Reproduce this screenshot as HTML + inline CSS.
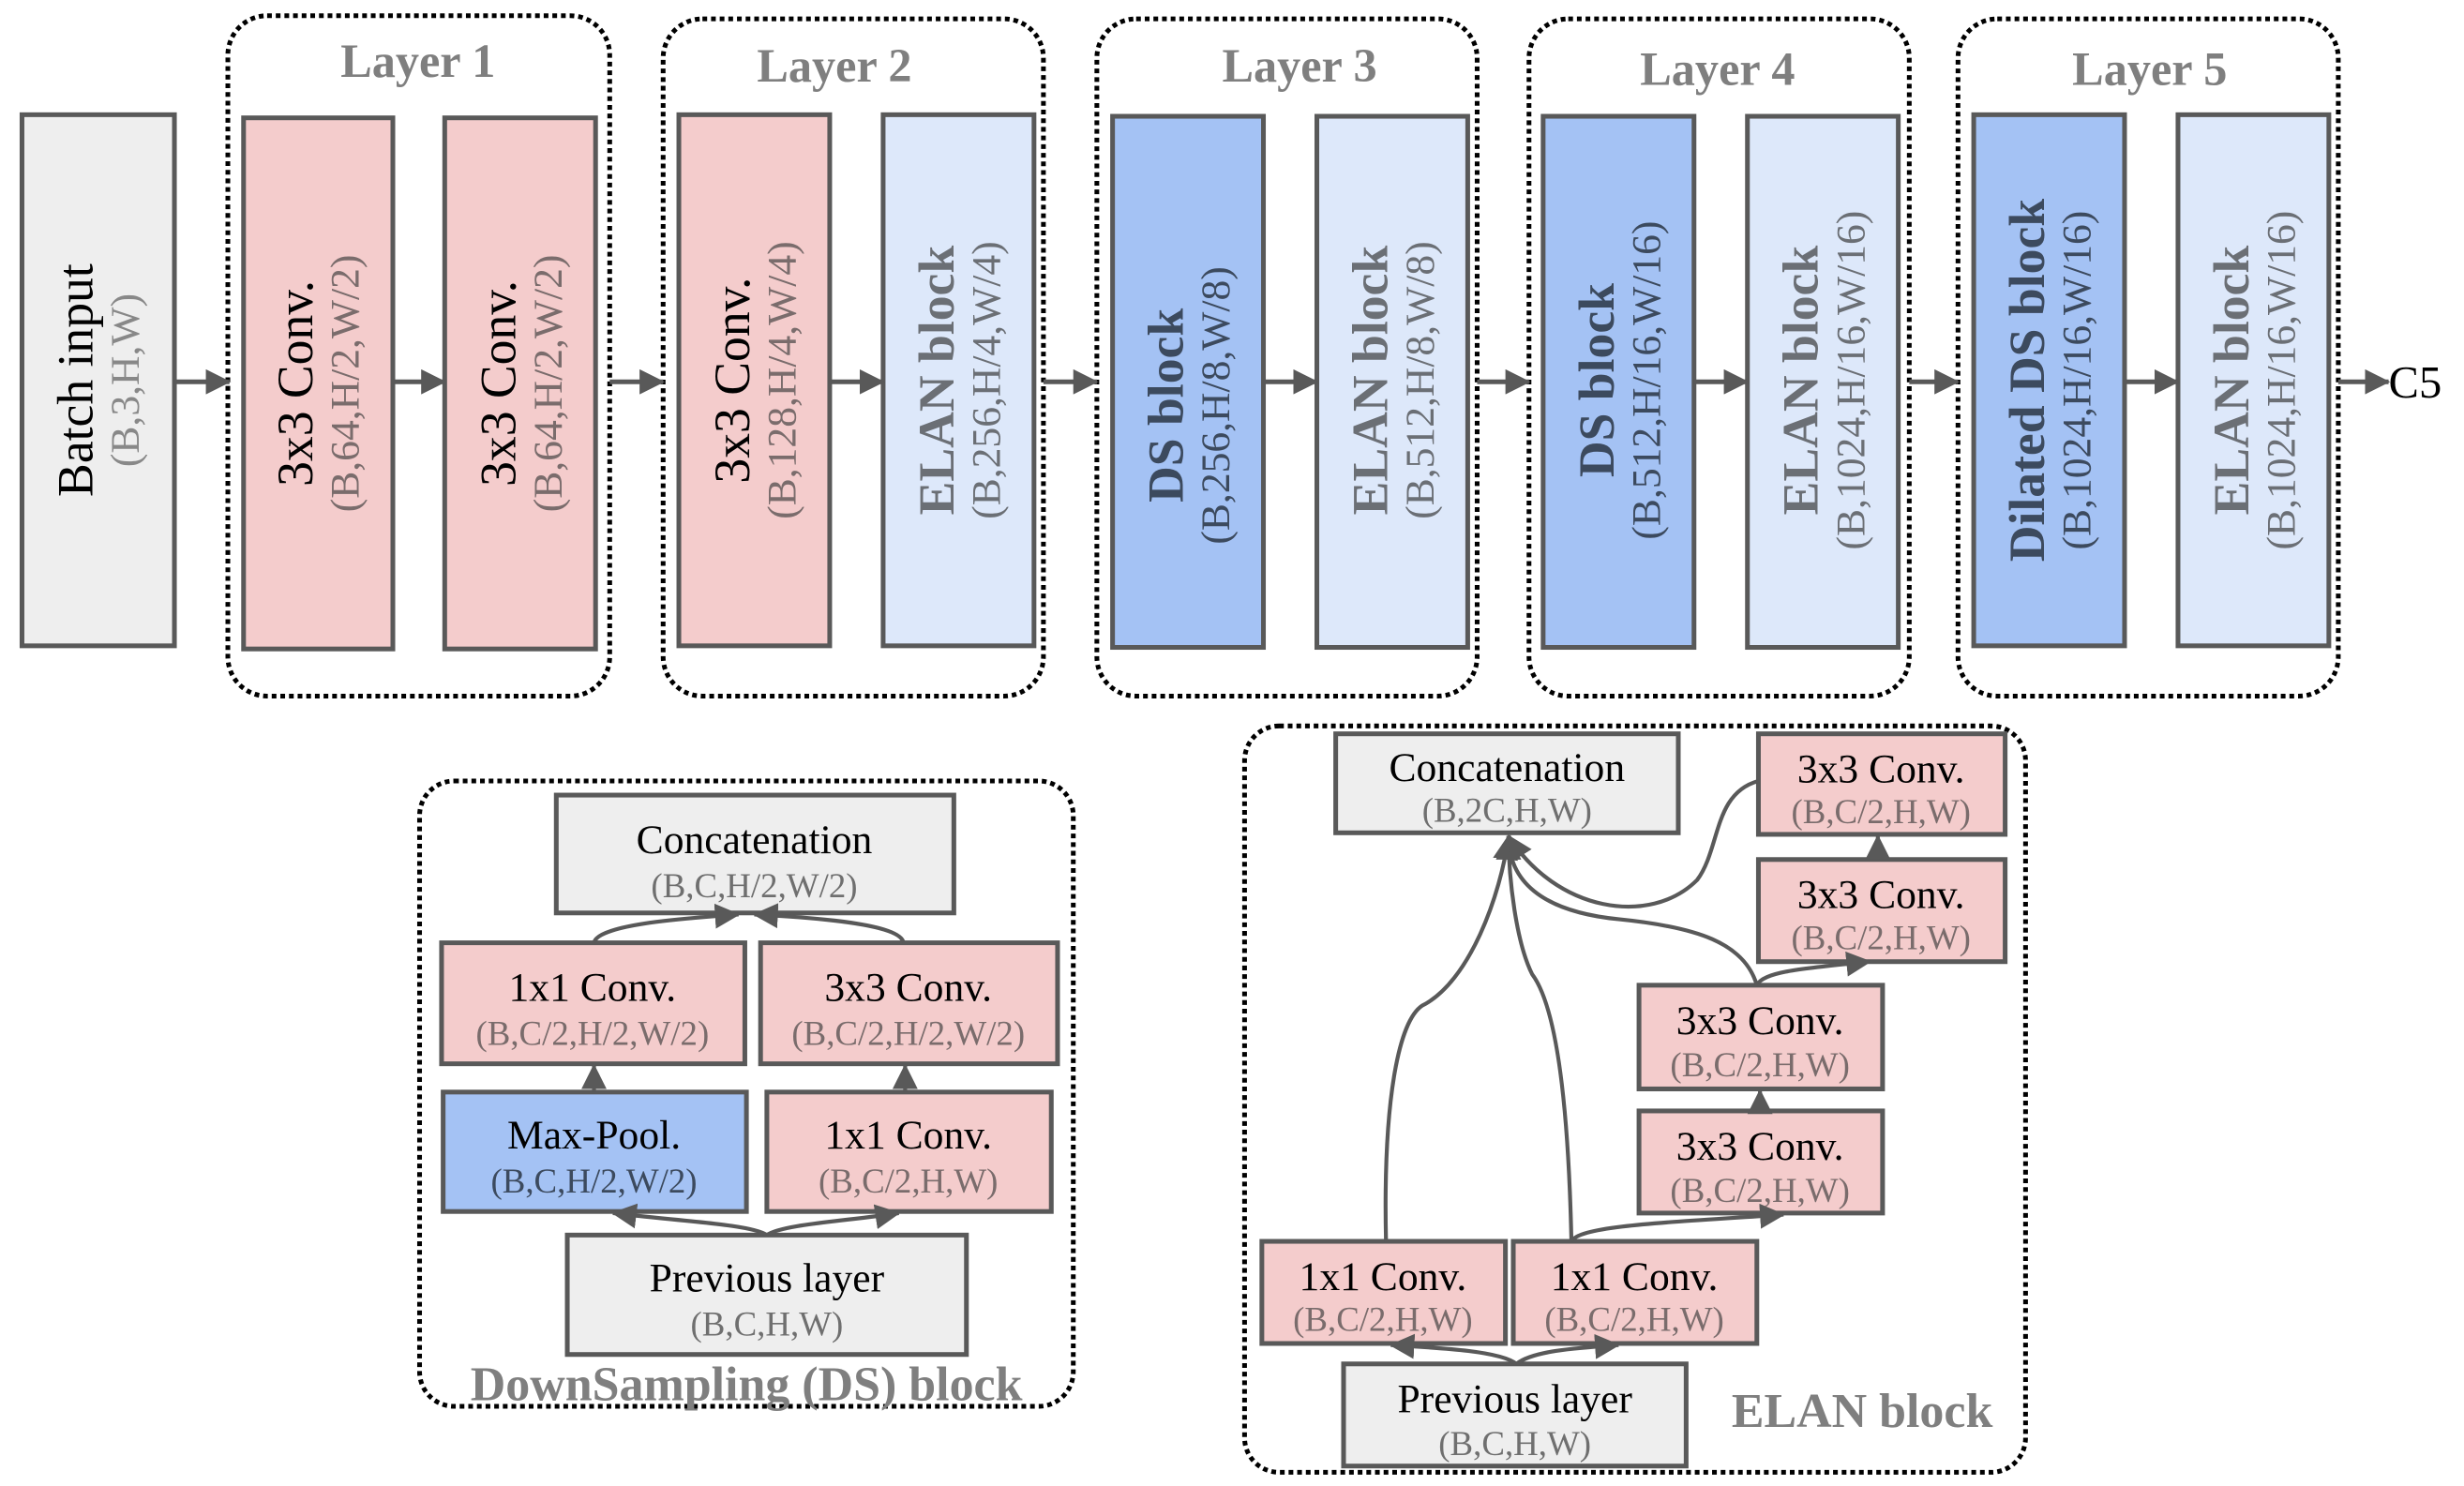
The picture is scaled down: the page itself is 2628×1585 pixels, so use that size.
<!DOCTYPE html>
<html><head><meta charset="utf-8"><style>
html,body{margin:0;padding:0;background:#fff;}
svg{display:block;}
text{font-family:"Liberation Serif",serif;}
</style></head><body>
<svg width="2628" height="1585" viewBox="0 0 1568 945.7" preserveAspectRatio="none" xmlns="http://www.w3.org/2000/svg">
<defs>
<marker id="b" markerWidth="16" markerHeight="16" refX="15" refY="8" orient="auto" markerUnits="userSpaceOnUse" viewBox="0 0 16 16"><path d="M0,0 L16,8 L0,16 z" fill="#595959"/></marker>
</defs>
<g fill="none" stroke="#000" stroke-width="3" stroke-dasharray="3,2.5">
<rect x="145" y="10" width="243" height="433" rx="25"/>
<rect x="422" y="12" width="242" height="431" rx="25"/>
<rect x="698" y="12" width="242" height="431" rx="25"/>
<rect x="973" y="12" width="242" height="431" rx="25"/>
<rect x="1246" y="12" width="242" height="431" rx="25"/>
<rect x="267" y="497" width="416" height="398" rx="22"/>
<rect x="792" y="462" width="497" height="475" rx="22"/>
</g>
<g font-weight="bold" fill="#7f7f7f" font-size="30" text-anchor="middle">
<text x="266" y="49">Layer 1</text>
<text x="531" y="52">Layer 2</text>
<text x="827" y="52">Layer 3</text>
<text x="1093" y="54">Layer 4</text>
<text x="1368" y="54">Layer 5</text>
<text x="475" y="891" font-size="31">DownSampling (DS) block</text>
<text x="1185" y="908" font-size="31">ELAN block</text>
</g>
<g stroke="#595959" stroke-width="3">
<rect x="14" y="73" width="97" height="338" fill="#eeeeee"/>
<rect x="155" y="75" width="95" height="338" fill="#f4cccc"/>
<rect x="283" y="75" width="96" height="338" fill="#f4cccc"/>
<rect x="432" y="73" width="96" height="338" fill="#f4cccc"/>
<rect x="562" y="73" width="96" height="338" fill="#dde8fa"/>
<rect x="708" y="74" width="96" height="338" fill="#a4c2f4"/>
<rect x="838" y="74" width="96" height="338" fill="#dde8fa"/>
<rect x="982" y="74" width="96" height="338" fill="#a4c2f4"/>
<rect x="1112" y="74" width="96" height="338" fill="#dde8fa"/>
<rect x="1256" y="73" width="96" height="338" fill="#a4c2f4"/>
<rect x="1386" y="73" width="96" height="338" fill="#dde8fa"/>
</g>
<g stroke="#595959" stroke-width="3" marker-end="url(#b)">
<line x1="111" y1="243" x2="146" y2="243"/>
<line x1="250" y1="243" x2="283" y2="243"/>
<line x1="388" y1="243" x2="422" y2="243"/>
<line x1="528" y1="243" x2="562" y2="243"/>
<line x1="664" y1="243" x2="698" y2="243"/>
<line x1="804" y1="243" x2="838" y2="243"/>
<line x1="940" y1="243" x2="973" y2="243"/>
<line x1="1078" y1="243" x2="1112" y2="243"/>
<line x1="1215" y1="243" x2="1246" y2="243"/>
<line x1="1352" y1="243" x2="1386" y2="243"/>
<line x1="1488" y1="243" x2="1520" y2="243"/>
</g>
<text x="1520" y="253" font-size="29">C5</text>
<g text-anchor="middle" dominant-baseline="central">
<g transform="translate(62,242) rotate(-90)"><text y="-14" font-size="32">Batch input</text><text y="18" font-size="26" fill="#888">(B,3,H,W)</text></g>
<g transform="translate(202,244) rotate(-90)"><text y="-14" font-size="32">3x3 Conv.</text><text y="18" font-size="26" fill="#7a6c6c">(B,64,H/2,W/2)</text></g>
<g transform="translate(331,244) rotate(-90)"><text y="-14" font-size="32">3x3 Conv.</text><text y="18" font-size="26" fill="#7a6c6c">(B,64,H/2,W/2)</text></g>
<g transform="translate(480,242) rotate(-90)"><text y="-14" font-size="32">3x3 Conv.</text><text y="18" font-size="26" fill="#7a6c6c">(B,128,H/4,W/4)</text></g>
<g transform="translate(610,242) rotate(-90)"><text y="-14" font-size="32" font-weight="bold" fill="#6b6f75">ELAN block</text><text y="18" font-size="26" fill="#6b6f75">(B,256,H/4,W/4)</text></g>
<g transform="translate(756,258) rotate(-90)"><text y="-14" font-size="32" font-weight="bold" fill="#3c4a5e">DS block</text><text y="18" font-size="26" fill="#3c4a5e">(B,256,H/8,W/8)</text></g>
<g transform="translate(886,242) rotate(-90)"><text y="-14" font-size="32" font-weight="bold" fill="#6b6f75">ELAN block</text><text y="18" font-size="26" fill="#6b6f75">(B,512,H/8,W/8)</text></g>
<g transform="translate(1030,242) rotate(-90)"><text y="-14" font-size="32" font-weight="bold" fill="#3c4a5e">DS block</text><text y="18" font-size="26" fill="#3c4a5e">(B,512,H/16,W/16)</text></g>
<g transform="translate(1160,242) rotate(-90)"><text y="-14" font-size="32" font-weight="bold" fill="#6b6f75">ELAN block</text><text y="18" font-size="26" fill="#6b6f75">(B,1024,H/16,W/16)</text></g>
<g transform="translate(1304,242) rotate(-90)"><text y="-14" font-size="32" font-weight="bold" fill="#3c4a5e">Dilated DS block</text><text y="18" font-size="26" fill="#3c4a5e">(B,1024,H/16,W/16)</text></g>
<g transform="translate(1434,242) rotate(-90)"><text y="-14" font-size="32" font-weight="bold" fill="#6b6f75">ELAN block</text><text y="18" font-size="26" fill="#6b6f75">(B,1024,H/16,W/16)</text></g>
</g>
<g stroke="#595959" stroke-width="3">
<rect x="354" y="506" width="253" height="75" fill="#eeeeee"/>
<rect x="281" y="600" width="193" height="77" fill="#f4cccc"/>
<rect x="484" y="600" width="189" height="77" fill="#f4cccc"/>
<rect x="282" y="695" width="193" height="76" fill="#a4c2f4"/>
<rect x="488" y="695" width="181" height="76" fill="#f4cccc"/>
<rect x="361" y="786" width="254" height="76" fill="#eeeeee"/>
<rect x="850" y="467" width="218" height="63" fill="#eeeeee"/>
<rect x="1119" y="467" width="157" height="64" fill="#f4cccc"/>
<rect x="1119" y="547" width="157" height="65" fill="#f4cccc"/>
<rect x="1043" y="627" width="155" height="66" fill="#f4cccc"/>
<rect x="1043" y="707" width="155" height="65" fill="#f4cccc"/>
<rect x="803" y="790" width="155" height="65" fill="#f4cccc"/>
<rect x="963" y="790" width="155" height="65" fill="#f4cccc"/>
<rect x="855" y="868" width="218" height="65" fill="#eeeeee"/>
</g>
<g fill="none" stroke="#595959" stroke-width="2.5" marker-end="url(#b)">
<path d="M378,695 L378,678"/>
<path d="M576,695 L576,678"/>
<path d="M488,786 C478,779 430,777 390,772"/>
<path d="M488,786 C498,779 540,777 572,772"/>
<path d="M378,600 C380,588 440,584 470,582"/>
<path d="M575,600 C573,588 520,584 480,582"/>
<path d="M965,868 C955,860 920,858 885,856"/>
<path d="M965,868 C975,860 1000,858 1030,856"/>
<path d="M1000,790 C1005,780 1060,778 1135,773"/>
<path d="M1120,707 L1120,694"/>
<path d="M1118,627 C1122,618 1150,616 1190,612"/>
<path d="M1195,547 L1195,532"/>
<path d="M882,790 C880,700 890,650 905,640 C935,625 955,570 960,532"/>
<path d="M1000,790 C998,700 990,640 975,620 C965,600 960,560 960,532"/>
<path d="M1118,627 C1110,600 1080,590 1030,585 C980,580 960,560 960,532"/>
<path d="M1119,497 C1090,505 1095,540 1080,560 C1050,590 990,580 960,532"/>
</g>
<g text-anchor="middle" font-size="26">
<text x="480" y="543">Concatenation</text>
<text x="480" y="571" font-size="22" fill="#6f6f6f">(B,C,H/2,W/2)</text>
<text x="377" y="637">1x1 Conv.</text>
<text x="377" y="665" font-size="22" fill="#7a6c6c">(B,C/2,H/2,W/2)</text>
<text x="578" y="637">3x3 Conv.</text>
<text x="578" y="665" font-size="22" fill="#7a6c6c">(B,C/2,H/2,W/2)</text>
<text x="378" y="731">Max-Pool.</text>
<text x="378" y="759" font-size="22" fill="#3c4a5e">(B,C,H/2,W/2)</text>
<text x="578" y="731">1x1 Conv.</text>
<text x="578" y="759" font-size="22" fill="#7a6c6c">(B,C/2,H,W)</text>
<text x="488" y="822">Previous layer</text>
<text x="488" y="850" font-size="22" fill="#6f6f6f">(B,C,H,W)</text>
<text x="959" y="497">Concatenation</text>
<text x="959" y="523" font-size="22" fill="#6f6f6f">(B,2C,H,W)</text>
<text x="1197" y="498">3x3 Conv.</text>
<text x="1197" y="524" font-size="22" fill="#7a6c6c">(B,C/2,H,W)</text>
<text x="1197" y="578">3x3 Conv.</text>
<text x="1197" y="604" font-size="22" fill="#7a6c6c">(B,C/2,H,W)</text>
<text x="1120" y="658">3x3 Conv.</text>
<text x="1120" y="685" font-size="22" fill="#7a6c6c">(B,C/2,H,W)</text>
<text x="1120" y="738">3x3 Conv.</text>
<text x="1120" y="765" font-size="22" fill="#7a6c6c">(B,C/2,H,W)</text>
<text x="880" y="821">1x1 Conv.</text>
<text x="880" y="847" font-size="22" fill="#7a6c6c">(B,C/2,H,W)</text>
<text x="1040" y="821">1x1 Conv.</text>
<text x="1040" y="847" font-size="22" fill="#7a6c6c">(B,C/2,H,W)</text>
<text x="964" y="899">Previous layer</text>
<text x="964" y="926" font-size="22" fill="#6f6f6f">(B,C,H,W)</text>
</g>
</svg>
</body></html>
